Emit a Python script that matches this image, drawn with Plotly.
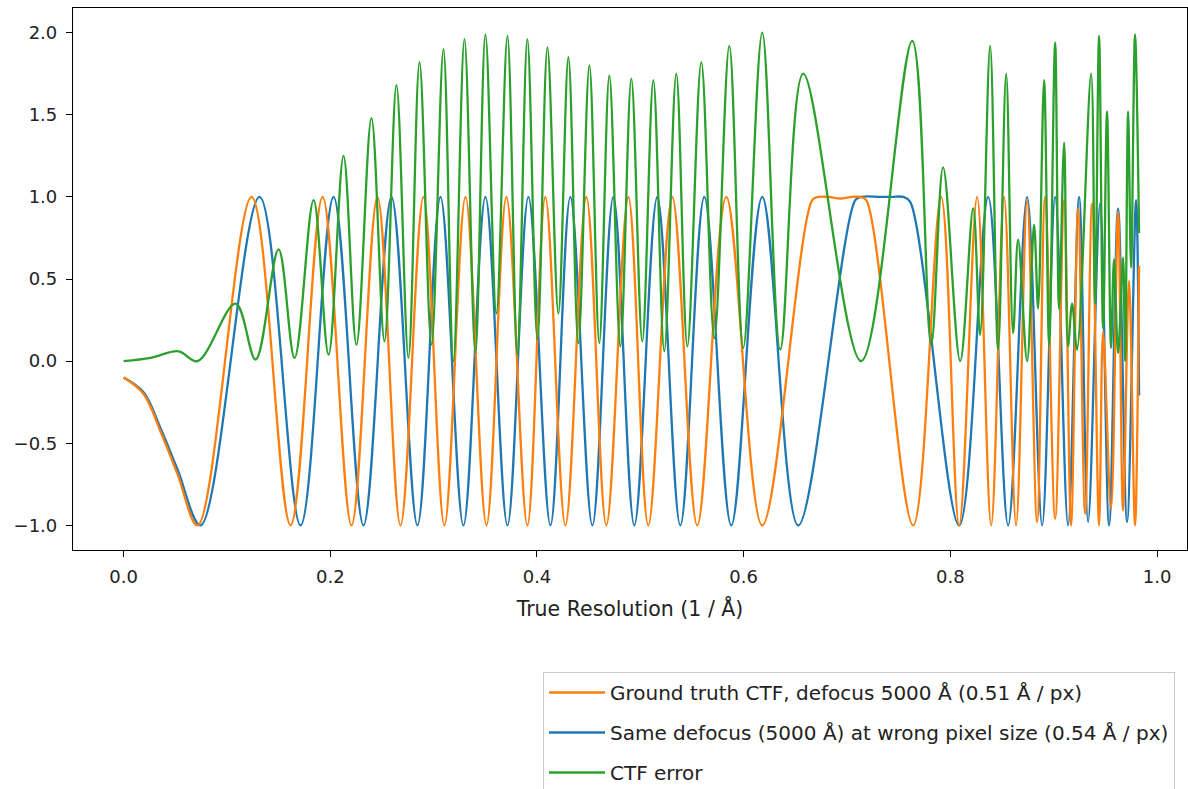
import plotly.graph_objects as go

# ---- data (resolution in 1/Å, CTF values) ----
orange_k = [0.0, 0.0193, 0.0358, 0.0522, 0.0716, 0.1238, 0.1615, 0.1925, 0.2205, 0.2456,
            0.2679, 0.2901, 0.3104, 0.3308, 0.3511, 0.3704, 0.3907, 0.4081, 0.4275, 0.4478,
            0.4671, 0.4884, 0.5077, 0.5309, 0.5551, 0.5832, 0.6180, 0.6663, 0.6721, 0.6818,
            0.6934, 0.7050, 0.7128, 0.7186, 0.7640, 0.7911, 0.8085, 0.8259, 0.8395, 0.8520,
            0.8636, 0.8743, 0.8839, 0.8917, 0.9014, 0.9101, 0.9168, 0.9236, 0.9304, 0.9371,
            0.9439, 0.9478, 0.9555, 0.9623, 0.9671, 0.9729, 0.9787, 0.9826]
orange_v = [-0.10, -0.20, -0.43, -0.69, -1.0, 1.0, -1.0, 1.0, -1.0, 1.0,
            -1.0, 1.0, -1.0, 1.0, -1.0, 1.0, -1.0, 1.0, -1.0, 1.0,
            -1.0, 1.0, -1.0, 1.0, -1.0, 1.0, -1.0, 0.98, 1.0, 1.0,
            0.99, 1.0, 1.0, 0.98, -1.0, 1.0, -1.0, 1.0, -1.0, 1.0,
            -1.0, 0.98, -0.98, 1.0, -0.96, 0.98, -1.0, 0.93, -0.93, 0.96,
            -1.0, 0.18, -0.90, 0.91, -0.91, 0.49, -1.0, 0.58]

blue_k = [0.0, 0.0193, 0.0358, 0.0522, 0.0745, 0.1315, 0.1712, 0.2031, 0.2321, 0.2592,
          0.2843, 0.3066, 0.3288, 0.3501, 0.3714, 0.3917, 0.4130, 0.4323, 0.4536, 0.4739,
          0.4942, 0.5164, 0.5387, 0.5619, 0.5880, 0.6180, 0.6528, 0.7080, 0.7137, 0.7321,
          0.7437, 0.7544, 0.7611, 0.8085, 0.8366, 0.8559, 0.8743, 0.8888, 0.9014, 0.9139,
          0.9246, 0.9333, 0.9449, 0.9536, 0.9623, 0.9710, 0.9797, 0.9826]
blue_v = [-0.10, -0.19, -0.41, -0.66, -1.0, 1.0, -1.0, 1.0, -1.0, 1.0,
          -1.0, 1.0, -1.0, 1.0, -1.0, 1.0, -1.0, 1.0, -1.0, 1.0,
          -1.0, 1.0, -1.0, 1.0, -1.0, 1.0, -1.0, 0.98, 1.0, 1.0,
          1.0, 1.0, 0.97, -1.0, 1.0, -1.0, 1.0, -1.0, 1.0, -1.0,
          1.0, -0.98, 0.96, -1.0, 0.93, -0.98, 0.98, -0.21]

green_k = [0.0, 0.0261, 0.0532, 0.0716, 0.1083, 0.1277, 0.1499, 0.1654, 0.1838, 0.1983,
           0.2128, 0.2253, 0.2398, 0.2524, 0.2640, 0.2756, 0.2863, 0.2979, 0.3095, 0.3191,
           0.3298, 0.3404, 0.3501, 0.3607, 0.3714, 0.3810, 0.3907, 0.4004, 0.4101, 0.4207,
           0.4304, 0.4400, 0.4507, 0.4603, 0.4700, 0.4807, 0.4913, 0.5019, 0.5126, 0.5232,
           0.5348, 0.5455, 0.5590, 0.5716, 0.5861, 0.5996, 0.6180, 0.6354, 0.6576, 0.7137,
           0.7631, 0.7814, 0.7930, 0.8095, 0.8221, 0.8288, 0.8385, 0.8462, 0.8540, 0.8607,
           0.8656, 0.8743, 0.8810, 0.8849, 0.8907, 0.8956, 0.9014, 0.9052, 0.9101, 0.9139,
           0.9178, 0.9226, 0.9362, 0.9400, 0.9439, 0.9478, 0.9516, 0.9555, 0.9584, 0.9623,
           0.9671, 0.9691, 0.9720, 0.9749, 0.9787, 0.9826]
green_v = [0.0, 0.02, 0.06, 0.0, 0.35, 0.01, 0.68, 0.02, 0.98, 0.04,
           1.25, 0.10, 1.48, 0.12, 1.68, 0.02, 1.82, 0.10, 1.90, 0.0,
           1.96, 0.05, 1.99, 0.29, 1.98, 0.04, 1.96, 0.13, 1.91, 0.29,
           1.85, 0.11, 1.80, 0.11, 1.74, 0.09, 1.72, 0.12, 1.71, 0.06,
           1.75, 0.09, 1.82, 0.14, 1.92, 0.08, 2.0, 0.07, 1.75, 0.0,
           1.95, 0.10, 1.18, 0.0, 0.93, 0.16, 1.92, 0.07, 1.75, 0.17,
           0.74, 0.0, 0.83, 0.32, 1.71, 0.10, 1.94, 0.32, 1.33, 0.09,
           0.35, 0.07, 1.75, 0.35, 1.98, 0.20, 1.52, 0.08, 0.62, 0.05,
           0.63, 0.0, 1.52, 0.57, 1.99, 0.78]

names = ["Ground truth CTF, defocus 5000 Å (0.51 Å / px)",
         "Same defocus (5000 Å) at wrong pixel size (0.54 Å / px)",
         "CTF error"]
colors = ["#ff7f0e", "#1f77b4", "#2ca02c"]
x_ticks = [0.0, 0.2, 0.4, 0.6, 0.8, 1.0]
y_ticks = [-1.0, -0.5, 0.0, 0.5, 1.0, 1.5, 2.0]

FONT = "DejaVu Sans"
LW = 2.3

fig = go.Figure()
# blue drawn first, orange over it, green on top
fig.add_trace(go.Scatter(x=blue_k, y=blue_v, mode="lines", name=names[1],
                         line=dict(color=colors[1], width=LW, shape="spline", smoothing=1),
                         legendrank=2, legendgroup="b"))
fig.add_trace(go.Scatter(x=orange_k, y=orange_v, mode="lines", name=names[0],
                         line=dict(color=colors[0], width=LW, shape="spline", smoothing=1),
                         legendrank=1, legendgroup="a"))
fig.add_trace(go.Scatter(x=green_k, y=green_v, mode="lines", name=names[2],
                         line=dict(color=colors[2], width=LW, shape="spline", smoothing=1),
                         legendrank=3, legendgroup="c"))

axis_common = dict(showgrid=False, zeroline=False, showline=True, mirror=True,
                   linecolor="black", linewidth=1.2, ticks="outside", ticklen=6,
                   tickwidth=1.2, tickcolor="black",
                   tickfont=dict(family=FONT, size=18, color="#222"))

fig.update_layout(
    width=1188, height=789,
    margin=dict(l=73, r=1, t=8, b=239, autoexpand=False),
    paper_bgcolor="white", plot_bgcolor="white",
    font=dict(family=FONT, size=18, color="#222"),
    xaxis=dict(range=[-0.049, 1.029], tickvals=x_ticks, tickformat=".1f",
               ticklabelstandoff=4,
               title=dict(text="True Resolution (1 / Å)",
                          font=dict(family=FONT, size=20.5, color="#222"),
                          standoff=15),
               **axis_common),
    yaxis=dict(range=[-1.15, 2.15], tickvals=y_ticks, tickformat=".1f",
               ticklabelstandoff=5, **axis_common),
    legend=dict(x=0.4219, y=-0.2251, xanchor="left", yanchor="top",
                bgcolor="white", bordercolor="#cccccc", borderwidth=1,
                font=dict(family=FONT, size=20, color="#222"),
                traceorder="grouped", tracegroupgap=11, itemwidth=56),
    showlegend=True,
)

fig.write_html("out.html", config={"displayModeBar": False},
               post_script="document.body.style.margin='0';document.body.style.overflow='hidden';")
